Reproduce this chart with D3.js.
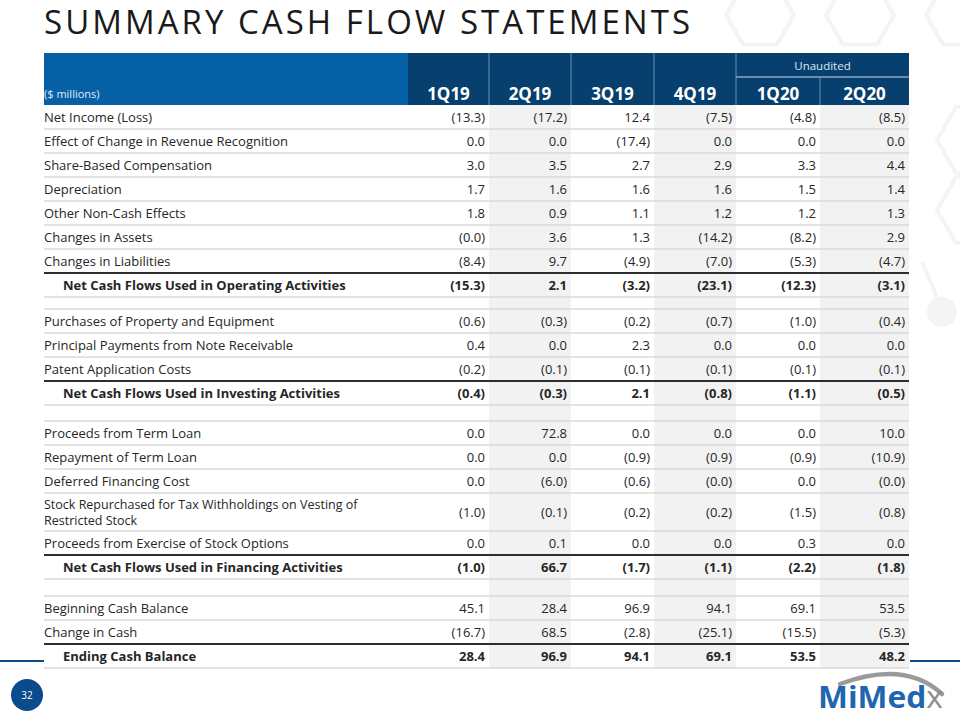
<!DOCTYPE html>
<html>
<head>
<meta charset="utf-8">
<script src="https://cdn.jsdelivr.net/npm/d3@7"></script>
<style>
  html, body { margin: 0; padding: 0; background: #fff; }
  svg { display: block; font-family: "Open Sans", "DejaVu Sans", sans-serif; }
</style>
</head>
<body>
<svg id="chart" width="960" height="720"></svg>
<script>
// ---------------- DATA ----------------
const title = "SUMMARY CASH FLOW STATEMENTS";
const unitLabel = "($ millions)";
const quarters = ["1Q19", "2Q19", "3Q19", "4Q19", "1Q20", "2Q20"];
const unauditedLabel = "Unaudited";
const unauditedQuarters = ["1Q20", "2Q20"];

// row labels (null = spacer row)
const rowLabels = [
  "Net Income (Loss)",
  "Effect of Change in Revenue Recognition",
  "Share-Based Compensation",
  "Depreciation",
  "Other Non-Cash Effects",
  "Changes in Assets",
  "Changes in Liabilities",
  "Net Cash Flows Used in Operating Activities",
  null,
  "Purchases of Property and Equipment",
  "Principal Payments from Note Receivable",
  "Patent Application Costs",
  "Net Cash Flows Used in Investing Activities",
  null,
  "Proceeds from Term Loan",
  "Repayment of Term Loan",
  "Deferred Financing Cost",
  "Stock Repurchased for Tax Withholdings on Vesting of|Restricted Stock",
  "Proceeds from Exercise of Stock Options",
  "Net Cash Flows Used in Financing Activities",
  null,
  "Beginning Cash Balance",
  "Change in Cash",
  "Ending Cash Balance"
];
// subtotal rows (bold, indented, with a rule above)
const totalRows = [
  "Net Cash Flows Used in Operating Activities",
  "Net Cash Flows Used in Investing Activities",
  "Net Cash Flows Used in Financing Activities",
  "Ending Cash Balance"
];

// series values per quarter (-0 means "(0.0)", null = spacer row)
const v1Q19 = [-13.3, 0.0, 3.0, 1.7, 1.8, -0, -8.4, -15.3, null, -0.6, 0.4, -0.2, -0.4, null, 0.0, 0.0, 0.0, -1.0, 0.0, -1.0, null, 45.1, -16.7, 28.4];
const v2Q19 = [-17.2, 0.0, 3.5, 1.6, 0.9, 3.6, 9.7, 2.1, null, -0.3, 0.0, -0.1, -0.3, null, 72.8, 0.0, -6.0, -0.1, 0.1, 66.7, null, 28.4, 68.5, 96.9];
const v3Q19 = [12.4, -17.4, 2.7, 1.6, 1.1, 1.3, -4.9, -3.2, null, -0.2, 2.3, -0.1, 2.1, null, 0.0, -0.9, -0.6, -0.2, 0.0, -1.7, null, 96.9, -2.8, 94.1];
const v4Q19 = [-7.5, 0.0, 2.9, 1.6, 1.2, -14.2, -7.0, -23.1, null, -0.7, 0.0, -0.1, -0.8, null, 0.0, -0.9, -0, -0.2, 0.0, -1.1, null, 94.1, -25.1, 69.1];
const v1Q20 = [-4.8, 0.0, 3.3, 1.5, 1.2, -8.2, -5.3, -12.3, null, -1.0, 0.0, -0.1, -1.1, null, 0.0, -0.9, 0.0, -1.5, 0.3, -2.2, null, 69.1, -15.5, 53.5];
const v2Q20 = [-8.5, 0.0, 4.4, 1.4, 1.3, 2.9, -4.7, -3.1, null, -0.4, 0.0, -0.1, -0.5, null, 10.0, -10.9, -0, -0.8, 0.0, -1.8, null, 53.5, -5.3, 48.2];
const series = [v1Q19, v2Q19, v3Q19, v4Q19, v1Q20, v2Q20];

const pageNumber = "32";

// ---------------- LAYOUT ----------------
const svg = d3.select("#chart");
const W = 960, H = 720;
const tableLeft = 44, tableRight = 909;
const headerTop = 53, headerBottom = 105, unauditedLine = 77;
const colEdges = [408, 489, 571, 654, 736, 820, 909];
const colLeft = d3.scaleOrdinal(quarters, colEdges.slice(0, 6));
const colRight = d3.scaleOrdinal(quarters, colEdges.slice(1));
const colMid = q => (colLeft(q) + colRight(q)) / 2;

const spacerHeights = [12, 16, 17];
let spacerIdx = 0;
const rowHeights = rowLabels.map(l => {
  if (l === null) return spacerHeights[spacerIdx++];
  if (l.includes("|")) return 38;
  return 24;
});
const rowTops = [];
rowHeights.reduce((acc, h) => { rowTops.push(acc); return acc + h; }, headerBottom);
const rowIdx = d3.range(rowLabels.length);
const yRow = d3.scaleOrdinal(rowIdx, rowTops);
const tableBottom = rowTops[rowTops.length - 1] + rowHeights[rowHeights.length - 1];

const fmt = v => {
  if (v === null) return "";
  const neg = v < 0 || Object.is(v, -0);
  const s = d3.format(".1f")(Math.abs(v));
  return neg ? "(" + s + ")" : s;
};

const navy = "#07406f", blue = "#0560a6", decoGrey = "#f4f4f4";

// ---------------- BACKGROUND DECORATION ----------------
const deco = svg.append("g").attr("fill", "none").attr("stroke", decoGrey)
  .attr("stroke-width", 4).attr("stroke-linejoin", "round");
function hexPath(cx, cy, r) {
  const pts = d3.range(6).map(i => {
    const a = Math.PI / 3 * i;
    return [cx + r * Math.cos(a), cy + r * Math.sin(a)];
  });
  return "M" + pts.map(p => p.join(",")).join("L") + "Z";
}
[[760, 15], [860, 15], [960, 15]].forEach(([x, y]) => deco.append("path").attr("d", hexPath(x, y, 34)));
[[975, 140], [975, 210]].forEach(([x, y]) => deco.append("path").attr("d", hexPath(x, y, 38)));
deco.append("path").attr("d", "M922,262 L935,292 L940,310");
svg.append("circle").attr("cx", 942).attr("cy", 312).attr("r", 15).attr("fill", decoGrey);

// ---------------- TITLE ----------------
svg.append("text")
  .attr("x", 44).attr("y", 34)
  .attr("font-size", 33).attr("fill", "#1a1a1a")
  .attr("textLength", 646).attr("lengthAdjust", "spacing")
  .text(title);

// ---------------- HEADER ----------------
const head = svg.append("g");
head.append("rect").attr("x", tableLeft).attr("y", headerTop)
  .attr("width", colEdges[0] - tableLeft).attr("height", headerBottom - headerTop).attr("fill", blue);
head.append("rect").attr("x", colEdges[0]).attr("y", headerTop)
  .attr("width", tableRight - colEdges[0]).attr("height", headerBottom - headerTop).attr("fill", navy);
// column dividers
head.selectAll("line.div").data(quarters.slice(1)).join("line")
  .attr("x1", q => colLeft(q)).attr("x2", q => colLeft(q))
  .attr("y1", q => unauditedQuarters.indexOf(q) > 0 ? unauditedLine : headerTop)
  .attr("y2", headerBottom)
  .attr("stroke", "#6d8fb0").attr("stroke-width", 1);
head.append("line")
  .attr("x1", colLeft(unauditedQuarters[0])).attr("x2", tableRight)
  .attr("y1", unauditedLine).attr("y2", unauditedLine)
  .attr("stroke", "#8aa6c2").attr("stroke-width", 1.5);
head.append("text")
  .attr("x", (colLeft(unauditedQuarters[0]) + tableRight) / 2).attr("y", 70)
  .attr("text-anchor", "middle").attr("font-size", 11.5).attr("fill", "#dfe7ef")
  .text(unauditedLabel);
head.append("text").attr("x", tableLeft).attr("y", 98)
  .attr("font-size", 11).attr("fill", "#e3ecf5").text(unitLabel);
head.selectAll("text.q").data(quarters).join("text")
  .attr("class", "q")
  .attr("x", q => colMid(q)).attr("y", 100)
  .attr("text-anchor", "middle").attr("font-size", 17).attr("font-weight", 700)
  .attr("fill", "#fff").text(q => q);

// ---------------- COLUMN SHADING ----------------
svg.append("g").selectAll("rect").data(quarters.filter((q, i) => i % 2 === 1)).join("rect")
  .attr("x", q => colLeft(q)).attr("y", headerBottom)
  .attr("width", q => colRight(q) - colLeft(q)).attr("height", tableBottom - headerBottom)
  .attr("fill", "#f2f2f2");

// ---------------- ROW RULES ----------------
const rules = svg.append("g");
rowIdx.forEach(i => {
  const yb = yRow(i) + rowHeights[i];
  const nextIsTotal = i + 1 < rowLabels.length && totalRows.includes(rowLabels[i + 1]);
  rules.append("line")
    .attr("x1", tableLeft).attr("x2", tableRight).attr("y1", yb).attr("y2", yb)
    .attr("stroke", nextIsTotal ? "#2e2e2e" : "#dadada")
    .attr("stroke-width", nextIsTotal ? 2 : 1.5);
});

// ---------------- ROW LABELS & VALUES ----------------
const body = svg.append("g").attr("font-size", 13).attr("fill", "#262626");
rowIdx.forEach(i => {
  const label = rowLabels[i];
  if (label === null) return;
  const isTotal = totalRows.includes(label);
  const yc = yRow(i) + rowHeights[i] / 2;
  const lines = label.split("|");
  const lx = isTotal ? 63 : tableLeft;
  lines.forEach((ln, k) => {
    body.append("text")
      .attr("x", lx)
      .attr("y", yc + 4.5 + (k - (lines.length - 1) / 2) * 16)
      .attr("font-weight", isTotal ? 700 : 400)
      .attr("font-size", lines.length > 1 ? 12.5 : 13)
      .text(ln);
  });
  quarters.forEach((q, c) => {
    body.append("text")
      .attr("x", colRight(q) - 4).attr("y", yc + 4.5)
      .attr("text-anchor", "end")
      .attr("font-weight", isTotal ? 700 : 400)
      .text(fmt(series[c][i]));
  });
});

// ---------------- FOOTER ----------------
svg.append("line").attr("x1", 0).attr("x2", tableLeft).attr("y1", 661).attr("y2", 661)
  .attr("stroke", "#0b4a8b").attr("stroke-width", 2);
svg.append("line").attr("x1", tableRight + 1).attr("x2", W).attr("y1", 661).attr("y2", 661)
  .attr("stroke", "#0b4a8b").attr("stroke-width", 2);
svg.append("circle").attr("cx", 27).attr("cy", 695).attr("r", 16).attr("fill", "#0b4a8b");
svg.append("text").attr("x", 27).attr("y", 699).attr("text-anchor", "middle")
  .attr("font-size", 10).attr("fill", "#fff").text(pageNumber);

// logo
svg.append("path")
  .attr("d", "M 840 684 Q 905 660 942 694")
  .attr("fill", "none").attr("stroke", "#9a9a9a").attr("stroke-width", 4.5).attr("stroke-linecap", "round");
const logo = svg.append("text").attr("x", 818).attr("y", 708)
  .attr("font-size", 31).attr("font-weight", 700)
  .attr("textLength", 125).attr("lengthAdjust", "spacingAndGlyphs");
logo.append("tspan").attr("fill", "#1f66b0").text("MiMed");
logo.append("tspan").attr("fill", "#8e8e8e").attr("font-weight", 400).text("x");
</script>
</body>
</html>
